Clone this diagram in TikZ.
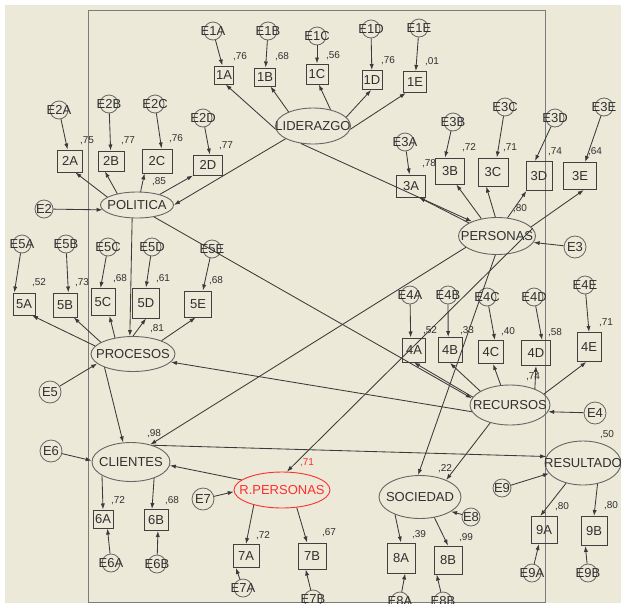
\documentclass[tikz,border=0pt]{standalone}
\usepackage{fontspec}
\setmainfont{Liberation Sans}
\usetikzlibrary{shapes.geometric,arrows.meta}
\definecolor{paper}{HTML}{ECE9D8}
\definecolor{framecol}{HTML}{7C7C7C}
\definecolor{edgecol}{HTML}{3A3A3A}
\definecolor{ovalcol}{HTML}{666666}
\definecolor{boxcol}{HTML}{404040}
\definecolor{inkcol}{HTML}{303030}
\definecolor{hilite}{HTML}{FF2E2E}
\newcommand\biglab{\fontsize{13}{15}\selectfont}
\newcommand\smalllab{\fontsize{10}{12}\selectfont}
\newcommand\zw[1]{\makebox[0pt]{#1}}

\begin{document}
\begin{tikzpicture}[x=1pt,y=-1pt,
  lat/.style 2 args={ellipse, draw=ovalcol, line width=0.9pt, minimum width=#1,
    minimum height=#2, inner sep=0pt, font=\biglab, text=inkcol},
  ind/.style 2 args={rectangle, draw=boxcol, line width=1pt, minimum width=#1,
    minimum height=#2, inner sep=0pt, font=\biglab, text=inkcol},
  err/.style={circle, draw=ovalcol, line width=0.8pt, minimum size=18pt,
    inner sep=0pt, font=\biglab, text=inkcol},
  bigerr/.style={err, minimum size=22pt},
  rsq/.style={font=\smalllab, text=inkcol, inner sep=0pt},
  arr/.style={draw=edgecol, line width=0.85pt, -{Latex[length=6pt,width=4.2pt]}}]

% page and frame
\useasboundingbox (0,0) rectangle (621,603);
\fill[white] (0,0) rectangle (621,603);
\fill[paper] (5,5) rectangle (621,603);
\draw[framecol, line width=1pt] (88,10) rectangle (545,602);

% latent variables
\node[lat={75pt}{36pt}] (LID) at (313,126) {\zw{LIDERAZGO}};
\node[lat={73pt}{26pt}] (POL) at (137,205) {\zw{POLITICA}};
\node[lat={77pt}{37pt}] (PERS) at (497,236) {\zw{PERSONAS}};
\node[lat={84pt}{35pt}] (PROC) at (133,354) {\zw{PROCESOS}};
\node[lat={80pt}{40pt}] (REC) at (510,405) {\zw{RECURSOS}};
\node[lat={78pt}{39pt}] (CLI) at (131,462) {\zw{CLIENTES}};
\node[lat={96pt}{36pt}, draw=hilite, text=hilite] (RPERS) at (282,490) {\zw{R.PERSONAS}};
\node[lat={82pt}{43pt}] (SOC) at (420,497) {\zw{SOCIEDAD}};
\node[lat={76pt}{44pt}] (RES) at (583,463) {\zw{RESULTADO}};

% observed indicators
\node[ind={19pt}{18pt}] (i1A) at (224,75) {1A};
\node[ind={21pt}{18pt}] (i1B) at (265,77) {1B};
\node[ind={22pt}{20pt}] (i1C) at (317,74) {1C};
\node[ind={20pt}{19pt}] (i1D) at (372,80) {1D};
\node[ind={23pt}{21pt}] (i1E) at (415,82) {1E};
\node[ind={25pt}{22pt}] (i2A) at (70,161) {2A};
\node[ind={26pt}{20pt}] (i2B) at (111,161) {2B};
\node[ind={30pt}{24pt}] (i2C) at (157,161) {2C};
\node[ind={29pt}{20pt}] (i2D) at (208,165) {2D};
\node[ind={29pt}{22pt}] (i3A) at (411,186) {3A};
\node[ind={29pt}{26pt}] (i3B) at (450,171) {3B};
\node[ind={30pt}{28pt}] (i3C) at (493,172) {3C};
\node[ind={26pt}{29pt}] (i3D) at (539,176) {3D};
\node[ind={33pt}{27pt}] (i3E) at (580,176) {3E};
\node[ind={22pt}{22pt}] (i5A) at (24,304) {5A};
\node[ind={24pt}{24pt}] (i5B) at (65,305) {5B};
\node[ind={24pt}{27pt}] (i5C) at (103,302) {5C};
\node[ind={27pt}{30pt}] (i5D) at (146,303) {5D};
\node[ind={27pt}{26pt}] (i5E) at (198,304) {5E};
\node[ind={23pt}{24pt}] (i4A) at (414,350) {4A};
\node[ind={24pt}{25pt}] (i4B) at (450,350) {4B};
\node[ind={25pt}{23pt}] (i4C) at (491,352) {4C};
\node[ind={29pt}{25pt}] (i4D) at (536,353) {4D};
\node[ind={24pt}{29pt}] (i4E) at (589,347) {4E};
\node[ind={20pt}{18pt}] (i6A) at (103,519) {6A};
\node[ind={24pt}{21pt}] (i6B) at (156,520) {6B};
\node[ind={26pt}{23pt}] (i7A) at (246,556) {7A};
\node[ind={28pt}{26pt}] (i7B) at (312,556) {7B};
\node[ind={28pt}{30pt}] (i8A) at (401,558) {8A};
\node[ind={28pt}{28pt}] (i8B) at (448,560) {8B};
\node[ind={26pt}{27pt}] (i9A) at (544,530) {9A};
\node[ind={26pt}{29pt}] (i9B) at (594,531) {9B};

% error terms
\node[err] (e1A) at (213,31) {\zw{E1A}};
\node[err] (e1B) at (268,31) {\zw{E1B}};
\node[err] (e1C) at (317,36) {\zw{E1C}};
\node[err] (e1D) at (371,29) {\zw{E1D}};
\node[err] (e1E) at (419,28) {\zw{E1E}};
\node[err] (e2A) at (59,110) {\zw{E2A}};
\node[err] (e2B) at (109,104) {\zw{E2B}};
\node[err] (e2C) at (155,104) {\zw{E2C}};
\node[err] (e2D) at (203,118) {\zw{E2D}};
\node[err] (e2) at (44,209) {\zw{E2}};
\node[err] (e3A) at (405,142) {\zw{E3A}};
\node[err] (e3B) at (453,122) {\zw{E3B}};
\node[err] (e3C) at (505,107) {\zw{E3C}};
\node[err] (e3D) at (555,118) {\zw{E3D}};
\node[err] (e3E) at (604,107) {\zw{E3E}};
\node[bigerr] (e3) at (575,247) {\zw{E3}};
\node[err] (e5A) at (22,244) {\zw{E5A}};
\node[err] (e5B) at (66,244) {\zw{E5B}};
\node[err] (e5C) at (108,247) {\zw{E5C}};
\node[err] (e5D) at (152,247) {\zw{E5D}};
\node[err] (e5E) at (212,249) {\zw{E5E}};
\node[bigerr] (e5) at (50,392) {\zw{E5}};
\node[err] (e4A) at (410,295) {\zw{E4A}};
\node[err] (e4B) at (448,295) {\zw{E4B}};
\node[err] (e4C) at (487,297) {\zw{E4C}};
\node[err] (e4D) at (534,297) {\zw{E4D}};
\node[err] (e4E) at (585,285) {\zw{E4E}};
\node[bigerr] (e4) at (595,413) {\zw{E4}};
\node[bigerr] (e6) at (51,451) {\zw{E6}};
\node[err] (e6A) at (111,563) {\zw{E6A}};
\node[err] (e6B) at (157,564) {\zw{E6B}};
\node[bigerr] (e7) at (203,499) {\zw{E7}};
\node[err] (e7A) at (243,588) {\zw{E7A}};
\node[err] (e7B) at (313,599) {\zw{E7B}};
\node[err] (e8) at (471,517) {\zw{E8}};
\node[err] (e8A) at (400,601) {\zw{E8A}};
\node[err] (e8B) at (443,601) {\zw{E8B}};
\node[err] (e9) at (502,488) {\zw{E9}};
\node[err] (e9A) at (532,573) {\zw{E9A}};
\node[err] (e9B) at (588,573) {\zw{E9B}};

% squared multiple correlations
\node[rsq] (r1A) at (240,57) {,76};
\node[rsq] (r1B) at (282,57) {,68};
\node[rsq] (r1C) at (333,56) {,56};
\node[rsq] (r1D) at (388,61) {,76};
\node[rsq] (r1E) at (432,62) {,01};
\node[rsq] (r2A) at (87,141) {,75};
\node[rsq] (r2B) at (128,141) {,77};
\node[rsq] (r2C) at (176,139) {,76};
\node[rsq] (r2D) at (226,146) {,77};
\node[rsq] (rPOL) at (159,182) {,85};
\node[rsq] (r3A) at (429,164) {,78};
\node[rsq] (r3B) at (469,148) {,72};
\node[rsq] (r3C) at (510,148) {,71};
\node[rsq] (r3D) at (555,152) {,74};
\node[rsq] (r3E) at (595,152) {,64};
\node[rsq] (rPERS) at (520,209) {,80};
\node[rsq] (r5A) at (39,283) {,52};
\node[rsq] (r5B) at (82,283) {,73};
\node[rsq] (r5C) at (120,279) {,68};
\node[rsq] (r5D) at (163,279) {,61};
\node[rsq] (r5E) at (216,281) {,68};
\node[rsq] (rPROC) at (157,329) {,81};
\node[rsq] (r4A) at (430,331) {,52};
\node[rsq] (r4B) at (467,331) {,33};
\node[rsq] (r4C) at (508,332) {,40};
\node[rsq] (r4D) at (555,333) {,58};
\node[rsq] (r4E) at (606,323) {,71};
\node[rsq] (rREC) at (533,377) {,74};
\node[rsq] (rCLI) at (154,434) {,98};
\node[rsq] (r6A) at (118,501) {,72};
\node[rsq] (r6B) at (172,501) {,68};
\node[rsq, text=hilite] (rRP) at (307,463) {,71};
\node[rsq] (r7A) at (263,536) {,72};
\node[rsq] (r7B) at (329,533) {,67};
\node[rsq] (rSOC) at (445,469) {,22};
\node[rsq] (r8A) at (419,535) {,39};
\node[rsq] (r8B) at (466,538) {,99};
\node[rsq] (rRES) at (607,435) {,50};
\node[rsq] (r9A) at (562,507) {,80};
\node[rsq] (r9B) at (611,506) {,80};

% structural paths
\draw[arr] (LID.205) -- (POL.east);
\draw[arr] (LID.235) -- (PERS.150);
\draw[arr] (POL.-110) -- (PROC.100);
\draw[arr] (POL.-35) -- (REC.170);
\draw[arr] (REC.190) -- (PROC.-12);
\draw[arr] (PROC.-155) -- (CLI.112);
\draw[arr] (PERS.200) -- (CLI.42);
\draw[arr] (PERS.-95) -- (SOC.95);
\draw[arr] (PERS.12) -- (RPERS.75);
\draw[arr] (REC.-138) -- (SOC.33);
\draw[arr] (RPERS.166) -- (CLI.-5);
\draw[arr] (CLI.38) -- (RES.170);

% loadings
\draw[arr] (LID.185) -- (i1A.-80);
\draw[arr] (LID.150) -- (i1B.-60);
\draw[arr] (LID.43) -- (i1C.-80);
\draw[arr] (LID.15) -- (i1D.-95);
\draw[arr] (LID.-5) -- (i1E.-130);
\draw[arr] (POL.165) -- (i2A.-65);
\draw[arr] (POL.150) -- (i2B.-120);
\draw[arr] (POL.75) -- (i2C.-135);
\draw[arr] (POL.25) -- (i2D.-145);
\draw[arr] (PERS.155) -- (i3A.-55);
\draw[arr] (PERS.132) -- (i3B.-65);
\draw[arr] (PERS.95) -- (i3C.-115);
\draw[arr] (PERS.60) -- (i3D.-130);
\draw[arr] (PERS.15) -- (i3E.-75);
\draw[arr] (PROC.168) -- (i5A.-55);
\draw[arr] (PROC.160) -- (i5B.-55);
\draw[arr] (PROC.138) -- (i5C.-65);
\draw[arr] (PROC.90) -- (i5D.south);
\draw[arr] (PROC.25) -- (i5E.-100);
\draw[arr] (REC.168) -- (i4A.south);
\draw[arr] (REC.155) -- (i4B.south);
\draw[arr] (REC.115) -- (i4C.-80);
\draw[arr] (REC.33) -- (i4D.south);
\draw[arr] (REC.18) -- (i4E.-100);
\draw[arr] (CLI.-155) -- (i6A.north);
\draw[arr] (CLI.-35) -- (i6B.110);
\draw[arr] (RPERS.-152) -- (i7A.north);
\draw[arr] (RPERS.-50) -- (i7B.110);
\draw[arr] (SOC.-145) -- (i8A.north);
\draw[arr] (SOC.-55) -- (i8B.north);
\draw[arr] (RES.-130) -- (i9A.105);
\draw[arr] (RES.-55) -- (i9B.north);

% disturbances and measurement errors
\draw[arr] (e2) -- (POL.188);
\draw[arr] (e3) -- (PERS.-10);
\draw[arr] (e5) -- (PROC.195);
\draw[arr] (e4) -- (REC.-10);
\draw[arr] (e6) -- (CLI.178);
\draw[arr] (e7) -- (RPERS.182);
\draw[arr] (e8) -- (SOC.-25);
\draw[arr] (e9) -- (RES.-163);
\draw[arr] (e1A) -- (i1A.100);
\draw[arr] (e1B) -- (i1B);
\draw[arr] (e1C) -- (i1C);
\draw[arr] (e1D) -- (i1D);
\draw[arr] (e1E) -- (i1E);
\draw[arr] (e2A) -- (i2A);
\draw[arr] (e2B) -- (i2B);
\draw[arr] (e2C) -- (i2C.70);
\draw[arr] (e2D) -- (i2D.80);
\draw[arr] (e3A) -- (i3A);
\draw[arr] (e3B) -- (i3B.110);
\draw[arr] (e3C) -- (i3C.75);
\draw[arr] (e3D) -- (i3D.105);
\draw[arr] (e3E) -- (i3E.70);
\draw[arr] (e5A) -- (i5A.130);
\draw[arr] (e5B) -- (i5B.75);
\draw[arr] (e5C) -- (i5C.100);
\draw[arr] (e5D) -- (i5D.north);
\draw[arr] (e5E) -- (i5E.70);
\draw[arr] (e4A) -- (i4A.105);
\draw[arr] (e4B) -- (i4B.98);
\draw[arr] (e4C) -- (i4C.72);
\draw[arr] (e4D) -- (i4D.65);
\draw[arr] (e4E) -- (i4E.north);
\draw[arr] (e6A) -- (i6A.-65);
\draw[arr] (e6B) -- (i6B.-80);
\draw[arr] (e7A) -- (i7A.-130);
\draw[arr] (e7B) -- (i7B.-115);
\draw[arr] (e8A) -- (i8A.-75);
\draw[arr] (e8B) -- (i8B.-128);
\draw[arr] (e9A) -- (i9A.-110);
\draw[arr] (e9B) -- (i9B.-120);
\end{tikzpicture}
\end{document}
